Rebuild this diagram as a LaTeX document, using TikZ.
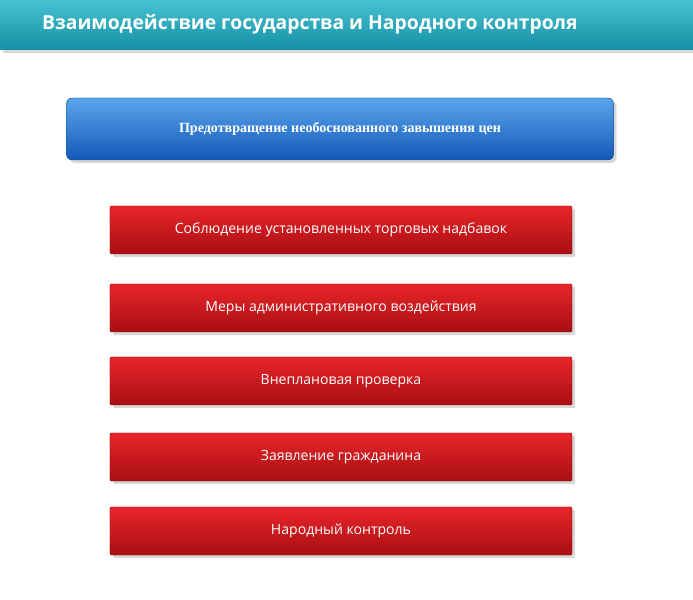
\documentclass[tikz,border=0pt]{standalone}
\usepackage{fontspec}
\setmainfont{Open Sans}
\newfontfamily\serifbox{Liberation Serif}
\usetikzlibrary{positioning,arrows.meta,shadows}

\definecolor{barTop}{HTML}{45C2D2}
\definecolor{barBot}{HTML}{1590A4}
\definecolor{redTop}{HTML}{E8262A}
\definecolor{redBot}{HTML}{A80E12}
\definecolor{blueTop}{HTML}{5AA6EC}
\definecolor{blueBot}{HTML}{1458B8}

\tikzset{
  stage/.style={draw=redBot!80!black, rounded corners=1pt, top color=redTop, bottom color=redBot,
    minimum width=13.86cm, minimum height=1.44cm, text=white, font=\fontsize{12}{14}\selectfont,
    drop shadow={opacity=0.3}},
  goal/.style={draw=blueBot!80!black, rounded corners=5pt, top color=blueTop, bottom color=blueBot,
    minimum width=16.41cm, minimum height=1.86cm, text=white,
    font=\serifbox\bfseries\fontsize{12}{14}\selectfont, drop shadow={opacity=0.3}},
  up/.style={draw=none, color=redTop!90!black, line width=0.42cm,
    -{Triangle[width=0.95cm,length=0.45cm]}, shorten >=-0.02cm},
}

\begin{document}
\begin{tikzpicture}[x=0.03cm, y=-0.03cm]
  \useasboundingbox[fill=white] (0,0) rectangle (693,600);
  % title bar
  \shade[top color=barTop, bottom color=barBot, drop shadow={opacity=0.3}] (0,0) rectangle (693,50);
  \node[text=white, font=\bfseries\fontsize{16.5}{18}\selectfont, anchor=west] (title) at (38,24)
    {Взаимодействие государства и Народного контроля};
  % goal
  \node[goal] (goal) at (340,129) {Предотвращение необоснованного завышения цен};
  % stages
  \node[stage] (s1) at (341,230) {Соблюдение установленных торговых надбавок};
  \node[stage] (s2) at (341,308) {Меры административного воздействия};
  \node[stage] (s3) at (341,381) {Внеплановая проверка};
  \node[stage] (s4) at (341,457) {Заявление гражданина};
  \node[stage] (s5) at (341,531) {Народный контроль};
  % arrows
  \draw[up] (s5.north) -- (s4.south);
  \draw[up] (s4.north) -- (s3.south);
  \draw[up] (s3.north) -- (s2.south);
  \draw[up] (s2.north) -- (s1.south);
  \draw[up] (s1.north) -- (goal.south);
\end{tikzpicture}
\end{document}
